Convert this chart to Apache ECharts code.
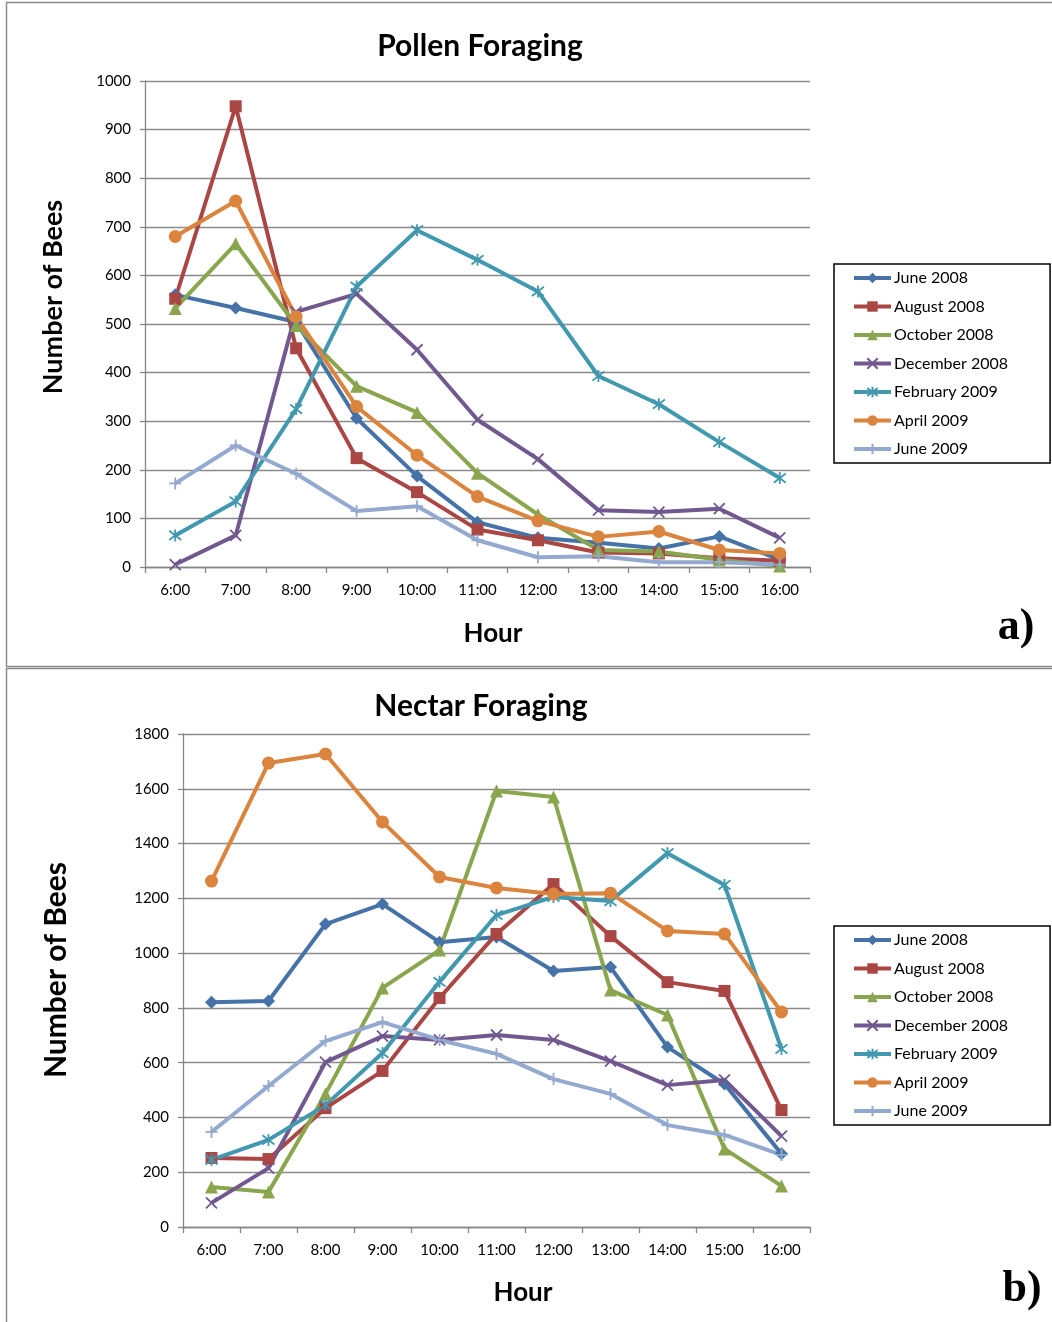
<!DOCTYPE html>
<html><head><meta charset="utf-8">
<script src="https://cdn.jsdelivr.net/npm/echarts@6/dist/echarts.min.js"></script>
<style>html,body{margin:0;padding:0;background:#fff}#c{width:1052px;height:1322px}</style>
</head><body><div id="c"></div>
<script>
const hours = ['6:00','7:00','8:00','9:00','10:00','11:00','12:00','13:00','14:00','15:00','16:00'];
const seriesNames = ['June 2008','August 2008','October 2008','December 2008','February 2009','April 2009','June 2009'];

// Pollen foraging
const pollenJune08 = [560, 533, 504, 306, 187, 92, 60, 50, 38, 63, 15];
const pollenAug08  = [552, 948, 450, 224, 154, 77, 55, 30, 28, 18, 13];
const pollenOct08  = [532, 665, 497, 372, 318, 193, 108, 35, 32, 15, 2];
const pollenDec08  = [5, 65, 525, 562, 447, 303, 222, 117, 113, 120, 60];
const pollenFeb09  = [65, 135, 325, 577, 693, 632, 567, 393, 335, 257, 183];
const pollenApr09  = [680, 753, 515, 330, 230, 145, 95, 62, 73, 35, 28];
const pollenJune09 = [172, 250, 192, 115, 125, 55, 20, 22, 10, 10, 5];

// Nectar foraging
const nectarJune08 = [821, 825, 1106, 1179, 1040, 1059, 935, 949, 657, 522, 267];
const nectarAug08  = [252, 248, 434, 570, 836, 1070, 1252, 1062, 894, 862, 427];
const nectarOct08  = [146, 128, 486, 873, 1011, 1592, 1570, 865, 774, 285, 150];
const nectarDec08  = [88, 215, 602, 697, 683, 701, 683, 606, 518, 537, 332];
const nectarFeb09  = [245, 318, 445, 635, 895, 1139, 1205, 1190, 1365, 1249, 650];
const nectarApr09  = [1263, 1694, 1727, 1479, 1278, 1238, 1216, 1219, 1081, 1070, 785];
const nectarJune09 = [347, 515, 679, 748, 683, 632, 540, 486, 372, 336, 263];

const pollenTicks = [0, 1000, 100];
const nectarTicks = [0, 1800, 200];

const pollenData = [pollenJune08, pollenAug08, pollenOct08, pollenDec08, pollenFeb09, pollenApr09, pollenJune09];
const nectarData = [nectarJune08, nectarAug08, nectarOct08, nectarDec08, nectarFeb09, nectarApr09, nectarJune09];

const colors = ['#4572A7','#AA4643','#89A54E','#71588F','#4198AF','#DB843D','#93A9CF'];
const symbols = ['diamond','rect','triangle',
  'path://M0,0L10,10M10,0L0,10',
  'path://M0,0L10,10M10,0L0,10M5,-1.5L5,11.5',
  'circle',
  'path://M5,0L5,10M0,5L10,5'];
const symSizes = [13, 12, 13, 11, 12, 13, 12];
const isPath = [false,false,false,true,true,false,true];

const FONT = 'Lato, "Open Sans", sans-serif';

function mkSeries(dataArr, gi) {
  return dataArr.map((d, i) => ({
    name: seriesNames[i], type: 'line', xAxisIndex: gi, yAxisIndex: gi,
    data: d, symbol: symbols[i], symbolSize: symSizes[i], showAllSymbol: true,
    lineStyle: {color: colors[i], width: 4},
    itemStyle: isPath[i] ? {color: colors[i], borderColor: colors[i], borderWidth: 1.8} : {color: colors[i]},
    emphasis: {disabled: true}, animation: false
  }));
}

function mkX(gi) {
  return {type: 'category', gridIndex: gi, data: hours, boundaryGap: true,
    axisLine: {lineStyle: {color: '#868686', width: 1.3}},
    axisTick: {show: true, alignWithLabel: false, length: 6, lineStyle: {color: '#868686', width: 1.3}},
    axisLabel: {color: '#000', fontSize: 15, fontFamily: FONT, margin: 16},
    splitLine: {show: false}};
}
function mkY(gi, t) {
  return {type: 'value', gridIndex: gi, min: t[0], max: t[1], interval: t[2],
    axisLine: {show: true, lineStyle: {color: '#868686', width: 1.3}},
    axisTick: {show: true, length: 5, lineStyle: {color: '#868686', width: 1.3}},
    axisLabel: {color: '#000', fontSize: 15, fontFamily: FONT, margin: 14, formatter: v => String(v)},
    splitLine: {show: true, lineStyle: {color: '#8a8a8a', width: 1.3}}};
}
function mkLegend(top) {
  return {orient: 'vertical', left: 834, top: top, data: seriesNames,
    itemWidth: 37, itemHeight: 13, itemGap: 12.5,
    padding: [6, 42, 6, 18], borderColor: '#000', borderWidth: 1.5,
    backgroundColor: '#fff',
    lineStyle: {width: 4},
    textStyle: {color: '#000', fontSize: 16, fontFamily: FONT, lineHeight: 16, padding: [0,0,0,-2]},
    selectedMode: false};
}

const chart = echarts.init(document.getElementById('c'), null, {renderer: 'canvas'});
chart.setOption({
  animation: false,
  backgroundColor: '#fff',
  grid: [
    {left: 145, right: 242, top: 81, bottom: 755},
    {left: 183, right: 242, top: 734, bottom: 95}
  ],
  xAxis: [mkX(0), mkX(1)],
  yAxis: [mkY(0, pollenTicks), mkY(1, nectarTicks)],
  legend: [mkLegend(264), mkLegend(926)],
  series: mkSeries(pollenData, 0).concat(mkSeries(nectarData, 1)),
  graphic: [
    {type: 'rect', z: -10, shape: {x: 6.5, y: 2.5, width: 1100, height: 664}, style: {fill: 'none', stroke: '#8c8c8c', lineWidth: 1.5}},
    {type: 'rect', z: -10, shape: {x: 6.5, y: 668.5, width: 1100, height: 700}, style: {fill: 'none', stroke: '#8c8c8c', lineWidth: 1.5}},
    {type: 'text', style: {text: 'Pollen Foraging', x: 480, y: 46, align: 'center', verticalAlign: 'middle', font: 'bold 30px ' + FONT, fill: '#000'}},
    {type: 'text', style: {text: 'Nectar Foraging', x: 481, y: 706, align: 'center', verticalAlign: 'middle', font: 'bold 30px ' + FONT, fill: '#000'}},
    {type: 'text', style: {text: 'Hour', x: 493, y: 634, align: 'center', verticalAlign: 'middle', font: 'bold 26px ' + FONT, fill: '#000'}},
    {type: 'text', style: {text: 'Hour', x: 523, y: 1293, align: 'center', verticalAlign: 'middle', font: 'bold 26px ' + FONT, fill: '#000'}},
    {type: 'text', rotation: Math.PI/2, x: 53, y: 297, style: {text: 'Number of Bees', x: 0, y: 0, align: 'center', verticalAlign: 'middle', font: 'bold 27px ' + FONT, fill: '#000'}},
    {type: 'text', rotation: Math.PI/2, x: 56, y: 970, style: {text: 'Number of Bees', x: 0, y: 0, align: 'center', verticalAlign: 'middle', font: 'bold 30px ' + FONT, fill: '#000'}},
    {type: 'text', style: {text: 'a)', x: 1016, y: 628, align: 'center', verticalAlign: 'middle', font: 'bold 44px "Liberation Serif", serif', fill: '#000'}},
    {type: 'text', style: {text: 'b)', x: 1022, y: 1290, align: 'center', verticalAlign: 'middle', font: 'bold 44px "Liberation Serif", serif', fill: '#000'}}
  ]
});
</script></body></html>
